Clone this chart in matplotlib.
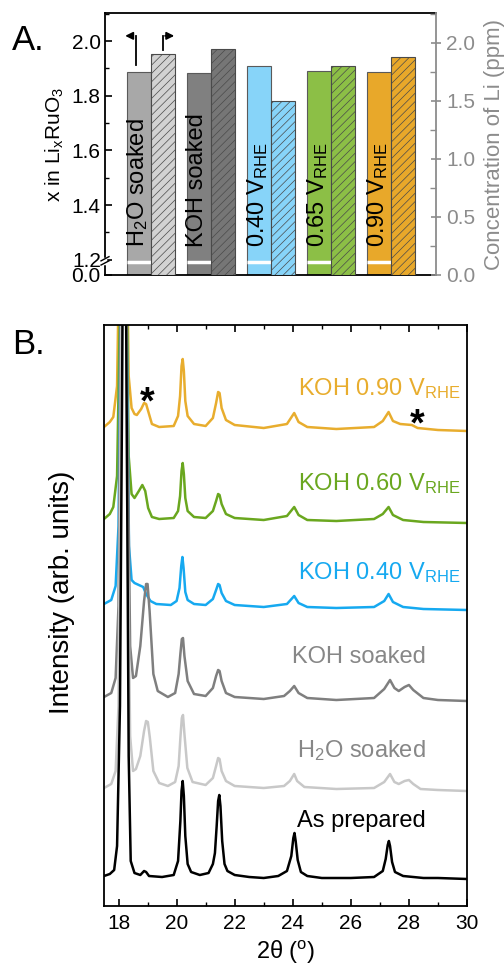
import numpy as np
import matplotlib.pyplot as plt
from matplotlib.ticker import MultipleLocator

plt.rcParams['font.family'] = ['Liberation Sans', 'DejaVu Sans']
plt.rcParams['mathtext.fontset'] = 'custom'
plt.rcParams['mathtext.rm'] = 'Liberation Sans'
plt.rcParams['mathtext.it'] = 'Liberation Sans:italic'
plt.rcParams['hatch.linewidth'] = 0.5

# ---- panel A: Li content (left axis) and Li in electrolyte (right axis)
bar_labels = ['H$_2$O soaked', 'KOH soaked', '0.40 V$_{\\rm RHE}$',
              '0.65 V$_{\\rm RHE}$', '0.90 V$_{\\rm RHE}$']
x_li = [1.885, 1.882, 1.908, 1.891, 1.886]
li_ppm = [1.90, 1.95, 1.50, 1.80, 1.88]
solid_colors = ['#a8a8a8', '#808080', '#87d4f9', '#8cbf46', '#e8a82a']
hatch_colors = ['#d2d2d2', '#767676', '#87d4f9', '#8cbf46', '#e8a82a']

# ---- panel B: XRD patterns (2theta in deg, intensity offset in arb. units)
prep_tt = [17.5, 17.7, 17.85, 17.95, 18.05, 18.12, 18.2, 18.28, 18.35, 18.42,
           18.55, 18.75, 18.88, 18.95, 19.05, 19.5, 19.9, 20.05, 20.13, 20.17,
           20.21, 20.25, 20.3, 20.38, 20.5, 20.8, 21.1, 21.25, 21.32, 21.38,
           21.43, 21.47, 21.51, 21.57, 21.65, 21.75, 22.0, 22.5, 23.0, 23.5,
           23.8, 23.95, 24.02, 24.06, 24.1, 24.17, 24.28, 24.5, 25.0, 26.0,
           26.8, 27.1, 27.2, 27.27, 27.31, 27.35, 27.42, 27.52, 27.8, 28.5,
           29.0, 30.0]
prep_i = [30, 32, 36, 60, 200, 500, 900, 500, 150, 45,
          33, 31, 35, 34, 30, 29, 31, 45, 85, 115,
          125, 110, 70, 42, 34, 31, 33, 42, 53, 80,
          105, 111, 100, 65, 42, 35, 31, 29, 28, 30,
          35, 50, 68, 73, 65, 46, 34, 30, 28, 28,
          29, 35, 47, 61, 65, 60, 44, 34, 30, 28,
          28, 27]

h2o_tt = [17.5, 17.75, 17.9, 18.0, 18.1, 18.2, 18.3, 18.4, 18.5, 18.6,
          18.75, 18.88, 18.95, 19.01, 19.08, 19.2, 19.4, 19.7, 19.95, 20.07,
          20.13, 20.18, 20.22, 20.27, 20.37, 20.55, 21.0, 21.25, 21.36, 21.43,
          21.48, 21.55, 21.7, 22.0, 23.0, 23.7, 23.9, 24.05, 24.15, 24.4,
          25.5, 26.8, 27.15, 27.35, 27.5, 27.65, 27.85, 28.0, 28.15, 28.4,
          29.0, 30.0]
h2o_i = [118, 122, 135, 200, 600, 900, 400, 170, 135, 137,
         150, 175, 185, 184, 168, 135, 123, 120, 124, 140,
         168, 188, 191, 172, 138, 124, 121, 128, 140, 148,
         147, 135, 125, 120, 118, 120, 125, 132, 125, 119,
         117, 118, 124, 132, 124, 122, 125, 126, 122, 117,
         116, 115]

koh_tt = [17.5, 17.75, 17.9, 18.0, 18.1, 18.2, 18.3, 18.4, 18.5, 18.6,
          18.75, 18.88, 18.95, 19.0, 19.07, 19.2, 19.35, 19.7, 19.95, 20.07,
          20.13, 20.18, 20.22, 20.27, 20.38, 20.6, 21.0, 21.25, 21.36, 21.43,
          21.48, 21.55, 21.7, 22.0, 23.0, 23.7, 23.9, 24.05, 24.2, 24.5,
          25.5, 26.8, 27.15, 27.35, 27.5, 27.65, 27.85, 28.0, 28.15, 28.5,
          29.0, 30.0]
koh_i = [209, 213, 228, 300, 700, 900, 500, 260, 228, 230,
         260, 305, 322, 322, 295, 232, 215, 209, 213, 232,
         252, 267, 268, 250, 225, 212, 210, 218, 230, 236,
         235, 225, 213, 209, 207, 210, 215, 220, 213, 208,
         206, 208, 217, 226, 218, 215, 219, 221, 216, 208,
         206, 205]

v040_tt = [17.5, 17.75, 17.9, 18.0, 18.1, 18.2, 18.28, 18.36, 18.45, 18.55,
           18.7, 18.85, 18.95, 19.1, 19.3, 19.8, 20.0, 20.1, 20.16, 20.2,
           20.24, 20.3, 20.38, 20.6, 21.0, 21.25, 21.36, 21.43, 21.48, 21.55,
           21.7, 22.0, 23.0, 23.8, 24.05, 24.2, 24.5, 25.5, 26.8, 27.15,
           27.3, 27.45, 27.8, 28.5, 30.0]
v040_i = [302, 306, 320, 380, 700, 900, 600, 360, 326, 323,
          321, 319, 312, 305, 302, 301, 305, 318, 340, 349,
          338, 314, 306, 302, 301, 307, 316, 322, 321, 313,
          305, 301, 299, 302, 310, 303, 299, 298, 299, 305,
          312, 304, 299, 297, 296]

v060_tt = [17.5, 17.7, 17.82, 17.95, 18.05, 18.15, 18.25, 18.35, 18.45, 18.55,
           18.7, 18.82, 18.92, 19.02, 19.15, 19.4, 19.9, 20.05, 20.12, 20.17,
           20.21, 20.25, 20.3, 20.38, 20.6, 21.0, 21.25, 21.36, 21.43, 21.48,
           21.55, 21.7, 22.0, 23.0, 23.8, 24.05, 24.2, 24.5, 25.5, 26.8,
           27.1, 27.3, 27.45, 27.8, 28.5, 30.0]
v060_i = [387, 392, 399, 430, 600, 900, 700, 450, 412, 408,
          415, 421, 415, 398, 389, 387, 388, 395, 410, 435,
          443, 432, 408, 395, 389, 388, 395, 405, 412, 411,
          402, 392, 388, 386, 390, 399, 391, 386, 385, 387,
          392, 399, 391, 386, 384, 383]

v090_tt = [17.5, 17.7, 17.82, 17.95, 18.05, 18.15, 18.25, 18.35, 18.45, 18.55,
           18.63, 18.78, 18.88, 18.95, 19.02, 19.15, 19.4, 19.9, 20.05, 20.12,
           20.17, 20.21, 20.25, 20.3, 20.38, 20.6, 21.0, 21.25, 21.36, 21.43,
           21.48, 21.55, 21.7, 22.0, 23.0, 23.8, 24.05, 24.2, 24.5, 25.5,
           26.8, 27.1, 27.3, 27.45, 27.7, 28.1, 28.3, 29.0, 30.0]
v090_i = [479, 484, 489, 520, 700, 900, 750, 530, 498, 492,
          491, 497, 503, 502, 495, 482, 479, 480, 490, 510,
          540, 547, 535, 505, 490, 482, 480, 488, 503, 514,
          513, 498, 486, 481, 478, 482, 493, 484, 479, 477,
          479, 485, 494, 485, 482, 481, 478, 476, 475]

fig = plt.figure(figsize=(5.04, 9.69), dpi=100)

# ================= panel A =================
ax = fig.add_axes([105 / 504, 1 - 275 / 969, 331 / 504, 262 / 969])
ybot = 1.144
pos = np.arange(1, 6)
ax.bar(pos - 0.2, np.array(x_li) - ybot, bottom=ybot, width=0.4,
       color=solid_colors, edgecolor='#5a5a5a', linewidth=0.8, zorder=2)
# white break stripe on the left-axis bars
ax.hlines([1.19] * 5, pos - 0.4, pos, colors='white', linewidth=2.5, zorder=3)
for p, lab in zip(pos, bar_labels):
    ax.text(p - 0.22, 1.245, lab, rotation=90, ha='center', va='bottom',
            fontsize=17, zorder=4)
ax.set_xlim(0.24, 5.755)
ax.set_ylim(ybot, 2.1026)
ax.set_yticks([ybot, 1.2, 1.4, 1.6, 1.8, 2.0])
ax.set_yticklabels(['0.0', '1.2', '1.4', '1.6', '1.8', '2.0'])
ax.yaxis.set_minor_locator(MultipleLocator(0.1))
ax.set_xticks([])
ax.tick_params(axis='y', which='both', direction='in', labelsize=15, pad=3)
ax.tick_params(axis='y', which='major', length=5, width=1.2)
ax.tick_params(axis='y', which='minor', length=3, width=1)
ax.set_ylabel('x in Li$_{\\rm x}$RuO$_3$', fontsize=15, labelpad=4)
for s in ['left', 'top', 'bottom']:
    ax.spines[s].set_linewidth(1.3)
ax.spines['right'].set_visible(False)

# axis-break marks on the left spine
ax.plot([0, 0], [0.046, 0.062], transform=ax.transAxes, color='white',
        lw=2.5, clip_on=False, zorder=5)
for yb in [0.046, 0.062]:
    ax.plot([-0.012, 0.012], [yb - 0.008, yb + 0.008], transform=ax.transAxes,
            color='k', lw=1.0, clip_on=False, zorder=6)

# arrows pointing to the axes
ax.plot([0.76, 0.76], [1.912, 2.019], color='k', lw=1.3)
ax.annotate('', xy=(0.53, 2.019), xytext=(0.755, 2.019),
            arrowprops=dict(arrowstyle='-|>', color='k', lw=1.3, mutation_scale=11))
ax.plot([1.2, 1.2], [1.967, 2.019], color='k', lw=1.3)
ax.annotate('', xy=(1.44, 2.019), xytext=(1.195, 2.019),
            arrowprops=dict(arrowstyle='-|>', color='k', lw=1.3, mutation_scale=11))

ax2 = ax.twinx()
ax2.bar(pos + 0.2, li_ppm, width=0.4, color=hatch_colors, edgecolor='#4a4a4a',
        linewidth=0.8, hatch='////', zorder=2)
ax2.set_ylim(0, 2.256)
ax2.yaxis.set_major_locator(MultipleLocator(0.5))
ax2.yaxis.set_minor_locator(MultipleLocator(0.25))
gray = '#8c8c8c'
ax2.tick_params(axis='y', which='both', colors=gray, labelsize=15, pad=4)
ax2.tick_params(axis='y', which='major', direction='inout', length=7, width=1.2)
ax2.tick_params(axis='y', which='minor', direction='in', length=4, width=1)
ax2.yaxis.set_major_formatter(lambda v, p: f'{v:.1f}')
ax2.set_ylabel('Concentration of Li (ppm)', fontsize=16, color=gray, labelpad=6)
for s in ['left', 'top', 'bottom']:
    ax2.spines[s].set_visible(False)
ax2.spines['right'].set_color(gray)
ax2.spines['right'].set_linewidth(1.3)

fig.text(12 / 504, 1 - 41 / 969, 'A.', fontsize=25, va='center', ha='left')

# ================= panel B =================
bx = fig.add_axes([104 / 504, 1 - 906 / 969, 363 / 504, 581 / 969])
curves = [
    (v090_tt, v090_i, '#e8ad2e'),
    (v060_tt, v060_i, '#6aa71f'),
    (v040_tt, v040_i, '#16a9f0'),
    (koh_tt, koh_i, '#7f7f7f'),
    (h2o_tt, h2o_i, '#c8c8c8'),
    (prep_tt, prep_i, 'black'),
]
for tt, inten, c in curves:
    bx.plot(tt, inten, color=c, lw=1.8)

bx.set_xlim(17.5, 30)
bx.set_ylim(0, 581)
bx.set_yticks([])
bx.xaxis.set_major_locator(MultipleLocator(2))
bx.xaxis.set_minor_locator(MultipleLocator(1))
bx.tick_params(axis='x', which='both', direction='in', top=True, labelsize=15, pad=6)
bx.tick_params(axis='x', which='major', length=5, width=1.2)
bx.tick_params(axis='x', which='minor', length=3, width=1)
for s in bx.spines.values():
    s.set_linewidth(1.3)
bx.set_xlabel('2θ ($^{\\rm o}$)', fontsize=17, labelpad=4)
bx.set_ylabel('Intensity (arb. units)', fontsize=20)
bx.yaxis.set_label_coords(-0.08, 0.54)

label_specs = [
    ('KOH 0.90 V$_{\\rm RHE}$', 29.79, 511, '#e8ad2e'),
    ('KOH 0.60 V$_{\\rm RHE}$', 29.79, 416, '#6aa71f'),
    ('KOH 0.40 V$_{\\rm RHE}$', 29.79, 327, '#16a9f0'),
    ('KOH soaked', 28.58, 243, '#878787'),
    ('H$_2$O soaked', 28.58, 149, '#878787'),
    ('As prepared', 28.58, 79, 'black'),
]
for txt, xt, yt, c in label_specs:
    bx.text(xt, yt, txt, color=c, fontsize=17, ha='right', va='baseline')

bx.text(19.0, 503, '*', fontsize=27, fontweight='bold', ha='center', va='center')
bx.text(28.3, 481, '*', fontsize=27, fontweight='bold', ha='center', va='center')

fig.text(12 / 504, 1 - 345 / 969, 'B.', fontsize=25, va='center', ha='left')

fig.savefig('out.png', dpi=100)
